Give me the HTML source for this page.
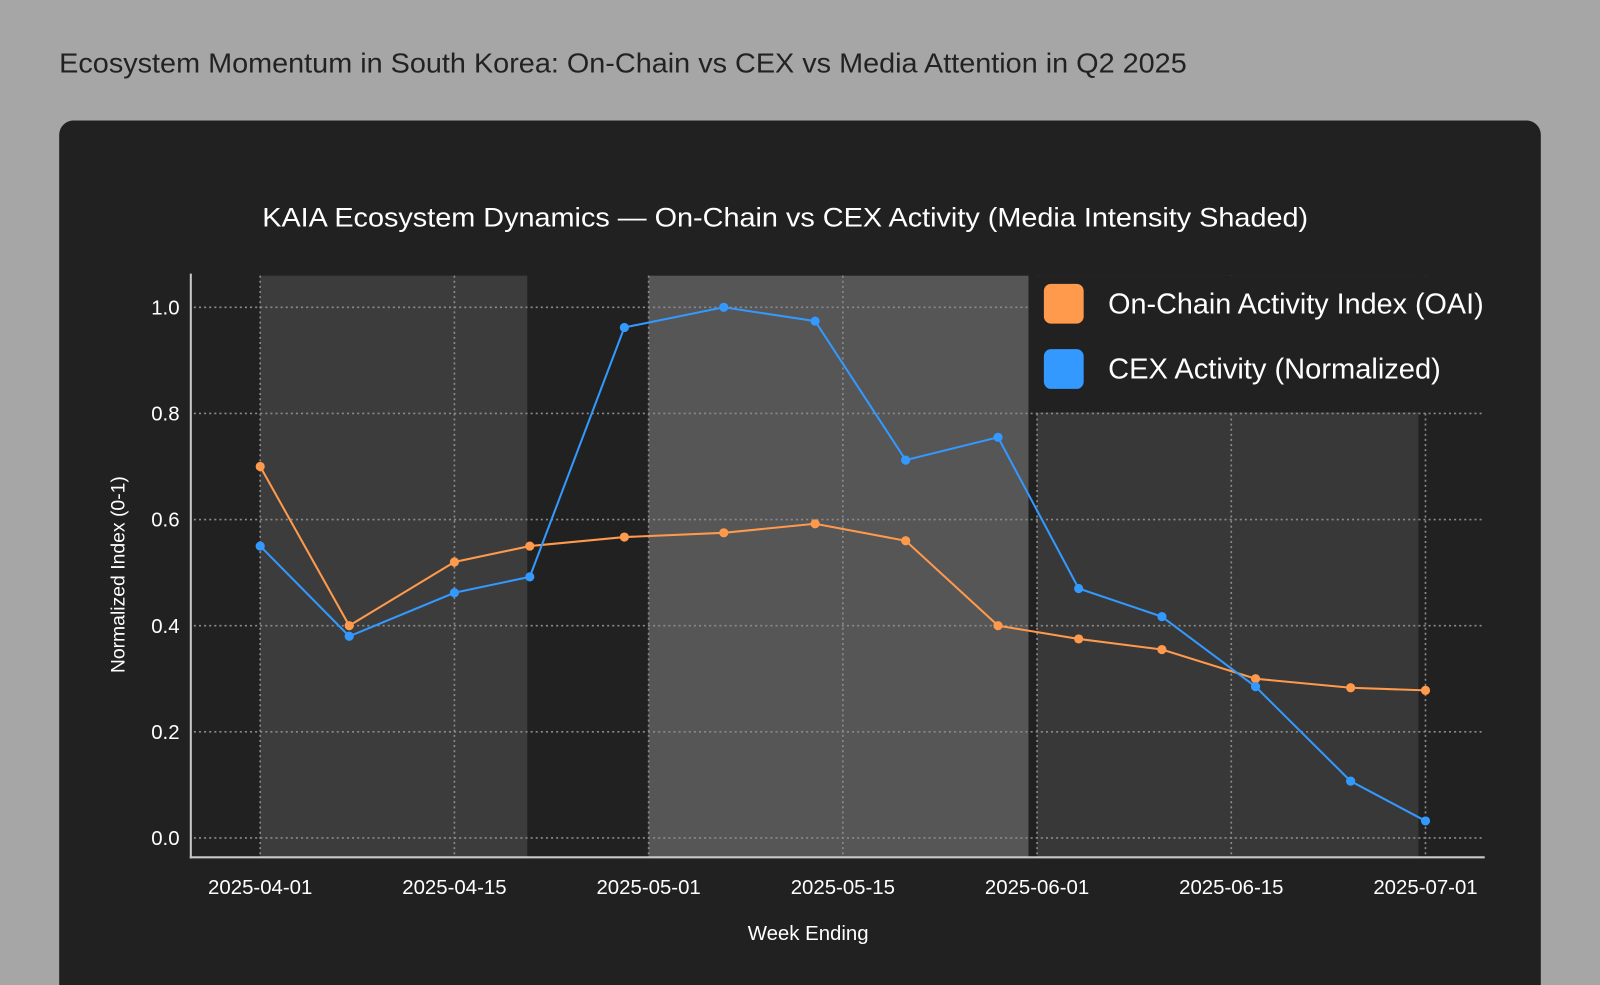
<!DOCTYPE html>
<html><head><meta charset="utf-8"><style>
html,body{margin:0;padding:0;background:#a6a6a6;}
svg{display:block;font-family:"Liberation Sans",sans-serif;}
</style></head><body>
<svg width="1600" height="985" viewBox="0 0 1568 965" xmlns="http://www.w3.org/2000/svg">
<rect x="0" y="0" width="1568" height="965" fill="#a6a6a6"/>
<text x="58" y="71" font-size="27" fill="#222" textLength="1105" lengthAdjust="spacingAndGlyphs">Ecosystem Momentum in South Korea: On-Chain vs CEX vs Media Attention in Q2 2025</text>
<rect x="58" y="118" width="1452" height="880" rx="14" fill="#212121"/>
<text x="257" y="222" font-size="26" fill="#fff" textLength="1025" lengthAdjust="spacingAndGlyphs">KAIA Ecosystem Dynamics — On-Chain vs CEX Activity (Media Intensity Shaded)</text>
<g id="plot"></g>
</svg>
<script>
const tickDates = ["2025-04-01","2025-04-15","2025-05-01","2025-05-15","2025-06-01","2025-06-15","2025-07-01"];
const weeks = ["2025-04-01","2025-04-07T10:00Z","2025-04-15","2025-04-21T05:00Z","2025-04-29","2025-05-06T10:00Z","2025-05-13","2025-05-20T12:00Z","2025-05-28T14:00Z","2025-06-04","2025-06-10","2025-06-17","2025-06-24T20:00Z","2025-07-01"];
const oai = [0.70,0.40,0.52,0.55,0.567,0.575,0.592,0.56,0.40,0.375,0.355,0.30,0.283,0.278];
const cex = [0.55,0.38,0.462,0.492,0.962,1.0,0.974,0.712,0.755,0.47,0.417,0.285,0.107,0.032];
const yTicks = [0.0,0.2,0.4,0.6,0.8,1.0];
const mediaStart = ["2025-04-01","2025-05-01","2025-06-01"];
const mediaEnd = ["2025-04-21","2025-05-31T06:00Z","2025-06-30T10:00Z"];
const mediaIntensity = [0.5,1.0,0.42];

const SVGNS="http://www.w3.org/2000/svg";
const plotG=document.getElementById('plot');
const X0=255,TS=190.33,Y0=821,Y1=301;
const dayOf=s=>Date.parse(s)/86400000;
function xs(s){const d=dayOf(s);const t=tickDates.map(dayOf);
 for(let i=0;i<t.length-1;i++){if(d<=t[i+1]||i==t.length-2){return X0+TS*(i+(d-t[i])/(t[i+1]-t[i]));}}}
const ys=v=>Y0+(Y1-Y0)*v;
function mk(tag,a){const e=document.createElementNS(SVGNS,tag);for(const k in a)e.setAttribute(k,a[k]);plotG.appendChild(e);return e;}
const plotTop=270,plotBot=840;
mediaStart.forEach((s,i)=>{
 const c=Math.round(0x22+(0x56-0x22)*mediaIntensity[i]);
 const e=mk('rect',{x:xs(s),y:plotTop,width:xs(mediaEnd[i])-xs(s),height:plotBot-plotTop,fill:`rgb(${c},${c},${c})`});
 
 
});
yTicks.forEach(v=>{
 const e=mk('line',{x1:190,x2:1455,y1:ys(v),y2:ys(v),stroke:'#8a8a8a','stroke-width':1.6,'stroke-dasharray':'2 3'});
 
 
 const t=mk('text',{x:176,y:ys(v)+7,'font-size':20,fill:'#fff','text-anchor':'end'});t.textContent=v.toFixed(1);
 
 
});
tickDates.forEach(s=>{
 const e=mk('line',{x1:xs(s),x2:xs(s),y1:plotTop,y2:plotBot,stroke:'#8a8a8a','stroke-width':1.6,'stroke-dasharray':'2 3'});
 
 
 const t=mk('text',{x:xs(s),y:876,'font-size':20,fill:'#fff','text-anchor':'middle'});t.textContent=s;
 
 
});
let a=mk('line',{x1:187,x2:187,y1:268,y2:841,stroke:'#c8c8c8','stroke-width':2});


a=mk('line',{x1:186,x2:1455,y1:840,y2:840,stroke:'#c8c8c8','stroke-width':2});


let t=mk('text',{x:792,y:921,'font-size':20,fill:'#fff','text-anchor':'middle'});t.textContent='Week Ending';


t=mk('text',{x:0,y:0,'font-size':19,fill:'#fff','text-anchor':'middle',transform:'translate(122,563) rotate(-90)'});t.textContent='Normalized Index (0-1)';


function series(vals,color,name){
 const p=mk('polyline',{points:vals.map((v,i)=>xs(weeks[i])+','+ys(v)).join(' '),fill:'none',stroke:color,'stroke-width':2});
 
 
 vals.forEach((v,i)=>{const c=mk('circle',{cx:xs(weeks[i]),cy:ys(v),r:4.5,fill:color});
  
  });
}
series(oai,'#ff9a4d','oai');
series(cex,'#3399ff','cex');
let r=mk('rect',{x:1008,y:270,width:452,height:134,fill:'#212121'});


[['On-Chain Activity Index (OAI)','#ff9a4d',278,368],['CEX Activity (Normalized)','#3399ff',342,326]].forEach(L=>{
 const s=mk('rect',{x:1023,y:L[2],width:39,height:39,rx:7,fill:L[1]});
 
 
 const tx=mk('text',{x:1086,y:L[2]+29,'font-size':28,fill:'#fff',textLength:L[3],lengthAdjust:'spacingAndGlyphs'});tx.textContent=L[0];
 
 
});
</script>
</body></html>
